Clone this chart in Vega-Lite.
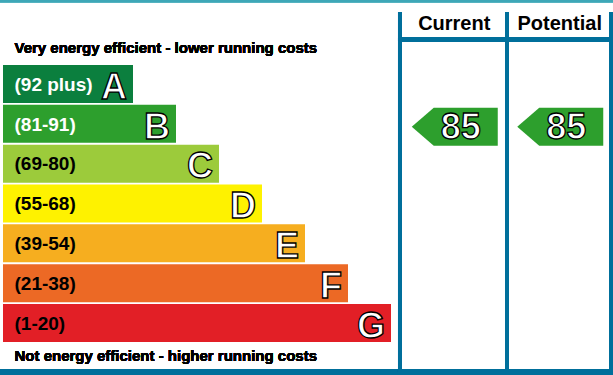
{
  "$schema": "https://vega.github.io/schema/vega-lite/v6.json",
  "width": 613,
  "height": 375,
  "padding": 0,
  "autosize": {"type": "none"},
  "background": "white",
  "config": {"view": {"stroke": null}, "axis": {"disable": true}, "font": "Liberation Sans"},
  "datasets": {
    "bands": [
      {"band": "A", "range": "(92 plus)", "rank": 1},
      {"band": "B", "range": "(81-91)", "rank": 2},
      {"band": "C", "range": "(69-80)", "rank": 3},
      {"band": "D", "range": "(55-68)", "rank": 4},
      {"band": "E", "range": "(39-54)", "rank": 5},
      {"band": "F", "range": "(21-38)", "rank": 6},
      {"band": "G", "range": "(1-20)", "rank": 7}
    ],
    "ratings": [
      {"column": "Current", "score": 85, "band": "B"},
      {"column": "Potential", "score": 85, "band": "B"}
    ]
  },
  "resolve": {"scale": {"x": "independent"}},
  "layer": [
    {
      "data": {"name": "bands"},
      "layer": [
        {
          "mark": {"type": "bar", "orient": "horizontal", "size": 38},
          "encoding": {
            "y": {"field": "rank", "type": "quantitative", "axis": null, "scale": {"domain": [-1.109, 8.306], "reverse": true, "nice": false, "zero": false, "padding": 0}},
            "x": {"field": "rank", "type": "quantitative", "axis": null, "scale": {"domain": [-2.093, 12.1628], "nice": false, "zero": false, "padding": 0}},
            "x2": {"datum": -2.0233},
            "color": {"field": "band", "type": "nominal", "legend": null,
              "scale": {"domain": ["A", "B", "C", "D", "E", "F", "G"],
                        "range": ["#0b7f3e", "#2d9f2d", "#9ccb3b", "#fef200", "#f6ae1f", "#ec6925", "#e21f26"]}}
          }
        },
        {
          "mark": {"type": "text", "align": "left", "baseline": "alphabetic", "dy": 6.8, "fontSize": 19, "fontWeight": "bold"},
          "encoding": {
            "y": {"field": "rank", "type": "quantitative"},
            "x": {"datum": -1.7558},
            "text": {"field": "range"},
            "color": {"condition": {"test": "datum.rank <= 2", "value": "white"}, "value": "black"}
          }
        },
        {
          "mark": {"type": "text", "align": "right", "baseline": "alphabetic", "dx": -6, "dy": 14.8, "fontSize": 36, "fontWeight": "bold", "fill": "white", "stroke": "black", "strokeWidth": 1.3},
          "encoding": {
            "y": {"field": "rank", "type": "quantitative"},
            "x": {"field": "rank", "type": "quantitative"},
            "text": {"field": "band"}
          }
        },
        {
          "mark": {"type": "text", "align": "left", "baseline": "alphabetic", "fontSize": 15, "fontWeight": "bold", "color": "black", "text": "Very energy efficient - lower running costs"},
          "encoding": {"x": {"datum": -1.7558}, "y": {"datum": 0.2342}}
        },
        {
          "mark": {"type": "text", "align": "left", "baseline": "alphabetic", "fontSize": 15, "fontWeight": "bold", "color": "black", "text": "Not energy efficient - higher running costs"},
          "encoding": {"x": {"datum": -1.7558}, "y": {"datum": 7.942}}
        },
        {
          "mark": {"type": "rule", "color": "#3ea7b7", "strokeWidth": 2.5},
          "encoding": {"x": {"datum": -2.093}, "x2": {"datum": 12.1628}, "y": {"datum": -1.0839}}
        },
        {
          "mark": {"type": "rule", "color": "#006f9b", "strokeWidth": 4.5},
          "encoding": {"x": {"datum": 7.1628}, "x2": {"datum": 12.1628}, "y": {"datum": -0.1173}}
        },
        {
          "mark": {"type": "rule", "color": "#006f9b", "strokeWidth": 6},
          "encoding": {"x": {"datum": -2.093}, "x2": {"datum": 12.1628}, "y": {"datum": 8.231}}
        },
        {
          "mark": {"type": "rule", "color": "#006f9b", "strokeWidth": 4},
          "encoding": {"x": {"datum": 7.2093}, "y": {"datum": -0.8077}, "y2": {"datum": 8.231}}
        },
        {
          "mark": {"type": "rule", "color": "#006f9b", "strokeWidth": 4},
          "encoding": {"x": {"datum": 9.6977}, "y": {"datum": -0.8077}, "y2": {"datum": 8.231}}
        },
        {
          "mark": {"type": "rule", "color": "#006f9b", "strokeWidth": 4},
          "encoding": {"x": {"datum": 12.1163}, "y": {"datum": -0.8077}, "y2": {"datum": 8.231}}
        }
      ]
    },
    {
      "data": {"name": "ratings"},
      "transform": [
        {"lookup": "band", "from": {"data": {"name": "bands"}, "key": "band", "fields": ["rank"]}}
      ],
      "layer": [
        {
          "mark": {"type": "text", "align": "center", "baseline": "alphabetic", "dx": 1.5, "fontSize": 20, "fontWeight": "bold", "color": "black"},
          "encoding": {
            "x": {"field": "column", "type": "nominal", "axis": null, "scale": {"type": "band", "domain": ["Current", "Potential"], "range": [400, 611], "paddingInner": 0, "paddingOuter": 0}},
            "y": {"datum": -0.3558},
            "text": {"field": "column"}
          }
        },
        {
          "mark": {"type": "point", "shape": "M-1,0L-0.4884,-0.4419L1,-0.4419L1,0.4419L-0.4884,0.4419Z", "size": 7396, "filled": true, "opacity": 1, "color": "#2d9f2d", "strokeWidth": 0, "xOffset": 2, "yOffset": 3},
          "encoding": {
            "x": {"field": "column", "type": "nominal"},
            "y": {"field": "rank", "type": "quantitative"}
          }
        },
        {
          "mark": {"type": "text", "align": "center", "baseline": "alphabetic", "dx": 8, "dy": 15.5, "fontSize": 36, "fontWeight": "bold", "fill": "white", "stroke": "black", "strokeWidth": 1.3},
          "encoding": {
            "x": {"field": "column", "type": "nominal"},
            "y": {"field": "rank", "type": "quantitative"},
            "text": {"field": "score"}
          }
        }
      ]
    }
  ]
}
